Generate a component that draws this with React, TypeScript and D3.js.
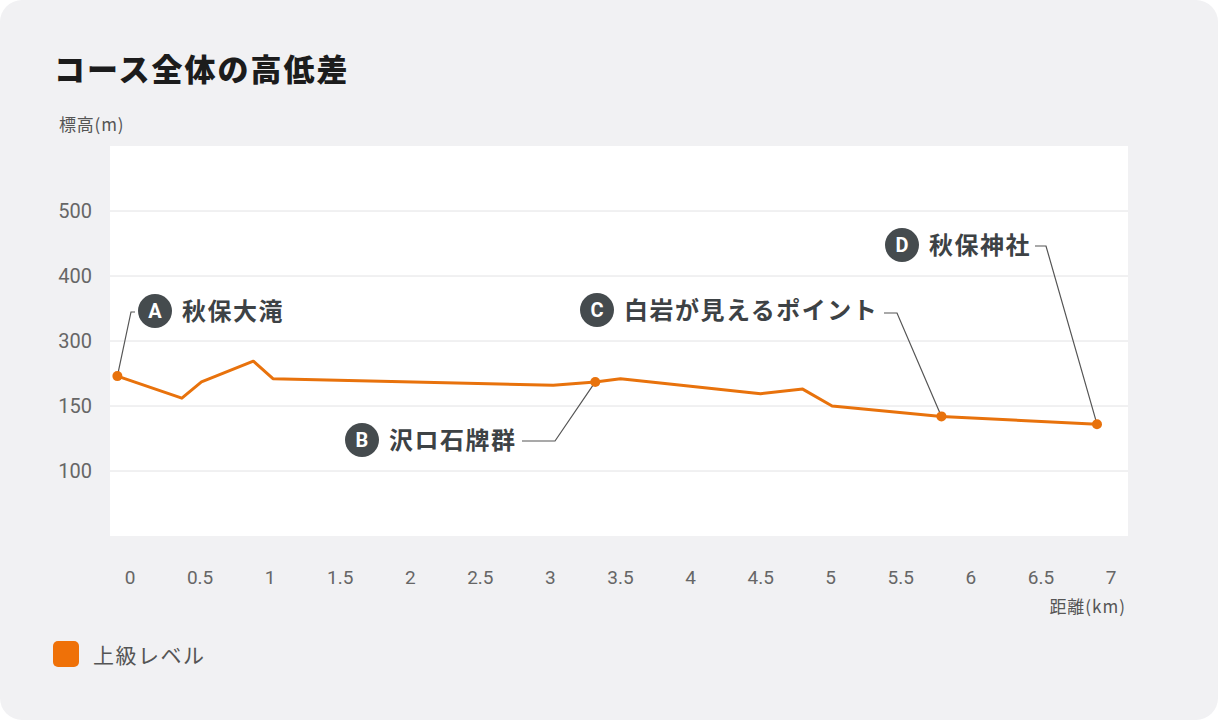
import React from "react";
import * as d3 from "d3";

const W = 1218;
const H = 720;

// Data (distance km, elevation in axis units)
const distances = [-0.09, 0.37, 0.51, 0.88, 1.02, 3.02, 3.32, 3.5, 4.5, 4.8, 5.01, 5.79, 6.9];
const elevations = [246, 212, 237, 269, 242, 232, 237, 242, 219, 226, 200, 184, 172];

const xTicks = [0, 0.5, 1, 1.5, 2, 2.5, 3, 3.5, 4, 4.5, 5, 5.5, 6, 6.5, 7];
const yTickValues = [100, 200, 300, 400, 500];
const yTickLabels = ["100", "150", "300", "400", "500"];

const spotLetters = ["A", "B", "C", "D"];
const spotNames = ["秋保大滝", "沢ロ石牌群", "白岩が見えるポイント", "秋保神社"];
const spotIndex = [0, 6, 11, 12];

const title = "コース全体の高低差";
const yAxisTitle = "標高(m)";
const xAxisTitle = "距離(km)";
const legendLabel = "上級レベル";

const ORANGE = "#e8720c";
const DARK = "#454b4e";
const JP = "'Noto Sans CJK JP', 'Noto Sans', sans-serif";
const NUM = "Roboto, 'Noto Sans', sans-serif";

const plot = { left: 110, right: 1128, top: 146, bottom: 536 };

export default function App() {
  const x = d3.scaleLinear().domain([0, 7]).range([130, 1111]);
  const y = d3.scaleLinear().domain([0, 600]).range([plot.bottom, plot.top]);
  const pts = distances.map((d, i) => [x(d), y(elevations[i])] as [number, number]);
  const line = d3.line();
  const path = line(pts) || "";

  // label layout (badge center, leader elbow: corner then end)
  const labels = [
    { bx: 155, by: 311, elbow: [[131, 312], [135, 312]] },
    { bx: 362, by: 440, elbow: [[555, 441], [522, 441]] },
    { bx: 597, by: 310, elbow: [[897, 313], [884, 313]] },
    { bx: 902, by: 245, elbow: [[1046, 246], [1035, 246]] },
  ];

  return (
    <div style={{ position: "fixed", left: 0, top: 0, width: W, height: H, background: "#ffffff" }}>
      <svg width={W} height={H} style={{ display: "block" }}>
        <rect x={0} y={0} width={W} height={H} rx={22} ry={22} fill="#f1f1f3" />
        <text x={54} y={81} fontFamily={JP} fontWeight={900} fontSize={31} letterSpacing={2} fill="#1c1c1c">
          {title}
        </text>
        <text x={59} y={131} fontFamily={JP} fontSize={17} letterSpacing={0.8} fill="#555">
          {yAxisTitle}
        </text>
        <rect x={plot.left} y={plot.top} width={plot.right - plot.left} height={plot.bottom - plot.top} fill="#ffffff" />
        {yTickValues.map((v, i) => (
          <g key={v}>
            <line x1={plot.left} x2={plot.right} y1={y(v)} y2={y(v)} stroke="#e2e2e4" strokeWidth={1} />
            <text x={92} y={y(v)} dy="0.35em" textAnchor="end" fontFamily={NUM} fontSize={20} fill="#666">
              {yTickLabels[i]}
            </text>
          </g>
        ))}
        {xTicks.map((t) => (
          <text key={t} x={x(t)} y={584} textAnchor="middle" fontFamily={NUM} fontSize={19} fill="#666">
            {String(t)}
          </text>
        ))}
        <text x={1126} y={613} textAnchor="end" fontFamily={JP} fontSize={17} letterSpacing={1} fill="#555">
          {xAxisTitle}
        </text>
        <path d={path} fill="none" stroke={ORANGE} strokeWidth={3} strokeLinejoin="round" />
        {spotIndex.map((idx, k) => {
          const [px, py] = pts[idx];
          const L = labels[k];
          const e = L.elbow;
          const leader = `M${px},${py}L${e[0][0]},${e[0][1]}L${e[1][0]},${e[1][1]}`;
          return (
            <g key={k}>
              <path d={leader} fill="none" stroke="#555" strokeWidth={1.2} />
              <circle cx={px} cy={py} r={5} fill={ORANGE} />
              <circle cx={L.bx} cy={L.by} r={17} fill={DARK} />
              <text x={L.bx} y={L.by} dy="0.36em" textAnchor="middle" fontFamily={NUM} fontWeight={700} fontSize={20} fill="#fff">
                {spotLetters[k]}
              </text>
              <text x={L.bx + 27} y={L.by} dy="0.36em" fontFamily={JP} fontWeight={700} fontSize={24} letterSpacing={1.5} fill="#3d4245">
                {spotNames[k]}
              </text>
            </g>
          );
        })}
        <rect x={53} y={641} width={26} height={26} rx={5} fill="#ef7108" />
        <text x={93} y={655} dy="0.36em" fontFamily={JP} fontSize={21} letterSpacing={1.5} fill="#555">
          {legendLabel}
        </text>
      </svg>
    </div>
  );
}
